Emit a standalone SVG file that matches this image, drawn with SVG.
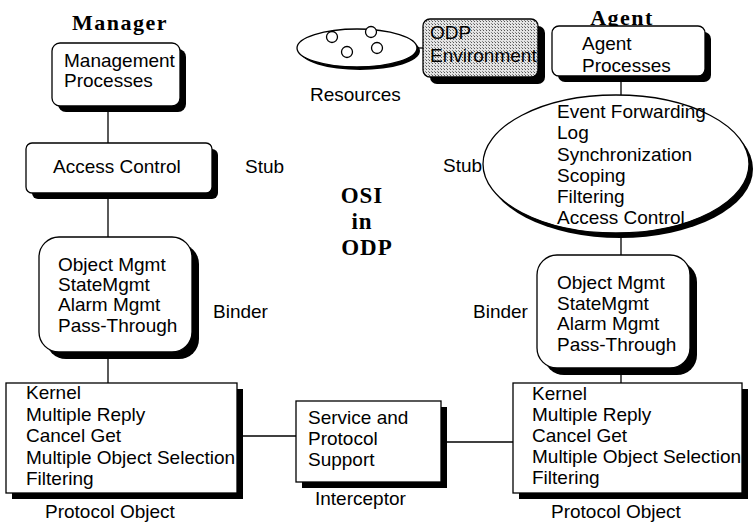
<svg xmlns="http://www.w3.org/2000/svg" width="754" height="526" viewBox="0 0 754 526">
  <defs>
    <pattern id="dots" width="3" height="3" patternUnits="userSpaceOnUse">
      <rect width="3" height="3" fill="#e4e4e4"/>
      <rect width="1" height="1" fill="#555"/>
      <rect x="2" y="2" width="1" height="1" fill="#888"/>
    </pattern>
  </defs>
  <style>
    .box { fill: #fff; stroke: #000; stroke-width: 1.3; }
    .shadow { fill: #000; stroke: none; }
    .t { font-family: "Liberation Sans", Arial, sans-serif; font-size: 19px; fill: #000; }
    .title { font-family: "Liberation Serif", "Times New Roman", serif; font-size: 22px; font-weight: bold; fill: #000; letter-spacing: 1.5px; }
    .big { font-family: "Liberation Serif", "Times New Roman", serif; font-size: 23px; font-weight: bold; fill: #000; letter-spacing: 1px; }
    .wire { stroke: #000; stroke-width: 1.3; fill: none; }
  </style>

  <rect width="754" height="526" fill="#fff"/>

  <!-- headings -->
  <text class="title" x="120" y="30" text-anchor="middle">Manager</text>
  <text class="title" x="622" y="25" text-anchor="middle">Agent</text>
  <g id="osi-label">
    <text class="big" x="362" y="203" text-anchor="middle">OSI</text>
    <text class="big" x="362" y="229" text-anchor="middle">in</text>
    <text class="big" x="367" y="255" text-anchor="middle">ODP</text>
  </g>

  <!-- connectors -->
  <g id="connectors">
    <line class="wire" x1="108" y1="106" x2="108" y2="143"/>
    <line class="wire" x1="108" y1="193" x2="108" y2="237"/>
    <line class="wire" x1="108" y1="352" x2="108" y2="383"/>
    <line class="wire" x1="237" y1="436" x2="296" y2="436"/>
    <line class="wire" x1="441" y1="442" x2="513" y2="442"/>
    <line class="wire" x1="418" y1="48" x2="423" y2="48"/>
    <line class="wire" x1="621" y1="76" x2="621" y2="95"/>
    <line class="wire" x1="621" y1="233" x2="621" y2="255"/>
    <line class="wire" x1="621" y1="368" x2="621" y2="383"/>
  </g>

  <!-- Manager side -->
  <g id="mgmt-processes">
    <rect class="shadow" x="58" y="49" width="128" height="63" rx="8"/>
    <rect class="box" x="52" y="43" width="128" height="63" rx="8"/>
    <text class="t" x="64" y="67">Management</text>
    <text class="t" x="64" y="87">Processes</text>
  </g>

  <g id="mgr-stub">
    <rect class="shadow" x="32" y="149" width="186" height="50" rx="6"/>
    <rect class="box" x="26" y="143" width="186" height="50" rx="6"/>
    <text class="t" x="53" y="173">Access Control</text>
    <text class="t" x="245" y="173">Stub</text>
  </g>

  <g id="mgr-binder">
    <rect class="shadow" x="46" y="244" width="153" height="115" rx="20"/>
    <rect class="box" x="39" y="237" width="153" height="115" rx="20"/>
    <text class="t" x="58" y="271">Object Mgmt</text>
    <text class="t" x="58" y="291">StateMgmt</text>
    <text class="t" x="58" y="311">Alarm Mgmt</text>
    <text class="t" x="58" y="332">Pass-Through</text>
    <text class="t" x="213" y="318">Binder</text>
  </g>

  <g id="mgr-protocol">
    <rect class="shadow" x="12" y="389" width="231" height="110"/>
    <rect class="box" x="6" y="383" width="231" height="110"/>
    <text class="t" x="26" y="399">Kernel</text>
    <text class="t" x="26" y="421">Multiple Reply</text>
    <text class="t" x="26" y="442">Cancel Get</text>
    <text class="t" x="26" y="464">Multiple Object Selection</text>
    <text class="t" x="26" y="485">Filtering</text>
    <text class="t" x="45" y="518">Protocol Object</text>
  </g>

  <!-- Interceptor -->
  <g id="interceptor">
    <rect class="shadow" x="302" y="407" width="145" height="81"/>
    <rect class="box" x="296" y="401" width="145" height="81"/>
    <text class="t" x="308" y="424">Service and</text>
    <text class="t" x="308" y="445">Protocol</text>
    <text class="t" x="308" y="466">Support</text>
    <text class="t" x="315" y="505">Interceptor</text>
  </g>

  <!-- Agent side -->
  <g id="resources">
    <ellipse class="shadow" cx="360" cy="51" rx="60" ry="19"/>
    <ellipse class="box" cx="357" cy="48" rx="60" ry="19"/>
    <circle class="box" cx="332" cy="37" r="5.5"/>
    <circle class="box" cx="371" cy="32" r="5.5"/>
    <circle class="box" cx="347" cy="52" r="5.5"/>
    <circle class="box" cx="377" cy="48" r="5.5"/>
    <text class="t" x="310" y="101">Resources</text>
  </g>

  <g id="odp-environment">
    <rect class="shadow" x="430" y="26" width="115" height="58" rx="7"/>
    <rect x="423" y="19" width="115" height="58" rx="7" fill="url(#dots)" stroke="#000" stroke-width="1.3"/>
    <text class="t" x="430" y="39">ODP</text>
    <text class="t" x="430" y="62">Environment</text>
  </g>

  <g id="agent-processes">
    <rect class="shadow" x="558" y="32" width="153" height="50" rx="7"/>
    <rect class="box" x="552" y="26" width="153" height="50" rx="7"/>
    <text class="t" x="582" y="50">Agent</text>
    <text class="t" x="582" y="72">Processes</text>
  </g>

  <g id="agent-stub">
    <ellipse class="shadow" cx="620" cy="169" rx="133" ry="69"/>
    <ellipse class="box" cx="616" cy="164" rx="133" ry="69"/>
    <text class="t" x="557" y="118">Event Forwarding</text>
    <text class="t" x="557" y="139">Log</text>
    <text class="t" x="557" y="161">Synchronization</text>
    <text class="t" x="557" y="182">Scoping</text>
    <text class="t" x="557" y="203">Filtering</text>
    <text class="t" x="557" y="224">Access Control</text>
    <text class="t" x="443" y="172">Stub</text>
  </g>

  <g id="agent-binder">
    <rect class="shadow" x="544" y="262" width="153" height="113" rx="20"/>
    <rect class="box" x="537" y="255" width="153" height="113" rx="20"/>
    <text class="t" x="557" y="289">Object Mgmt</text>
    <text class="t" x="557" y="310">StateMgmt</text>
    <text class="t" x="557" y="330">Alarm Mgmt</text>
    <text class="t" x="557" y="351">Pass-Through</text>
    <text class="t" x="473" y="318">Binder</text>
  </g>

  <g id="agent-protocol">
    <rect class="shadow" x="519" y="389" width="229" height="110"/>
    <rect class="box" x="513" y="383" width="229" height="110"/>
    <text class="t" x="532" y="400">Kernel</text>
    <text class="t" x="532" y="421">Multiple Reply</text>
    <text class="t" x="532" y="442">Cancel Get</text>
    <text class="t" x="532" y="463">Multiple Object Selection</text>
    <text class="t" x="532" y="484">Filtering</text>
    <text class="t" x="551" y="518">Protocol Object</text>
  </g>
</svg>
